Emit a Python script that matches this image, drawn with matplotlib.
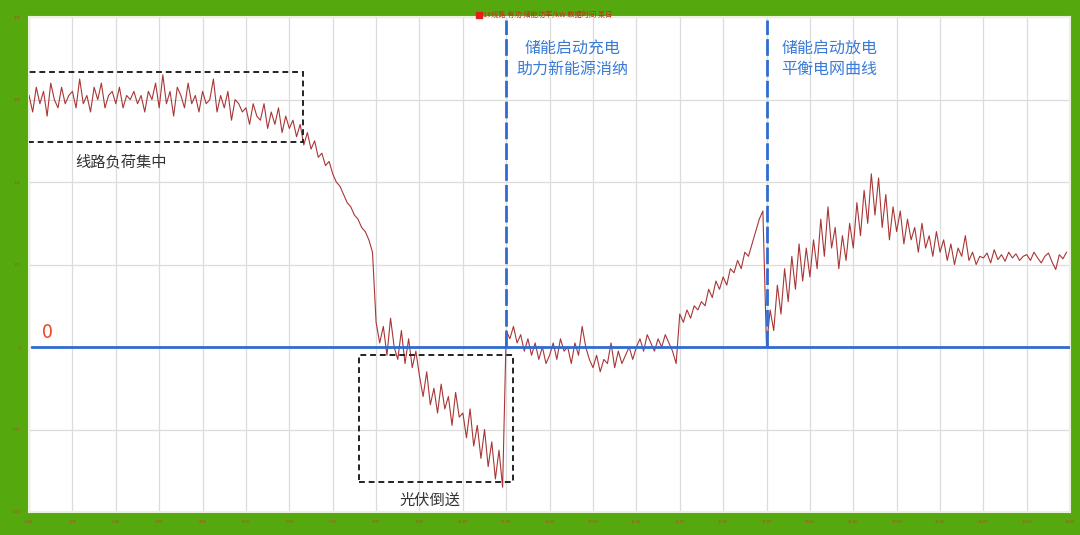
import numpy as np
import matplotlib
import matplotlib.pyplot as plt
from matplotlib.patches import Rectangle

matplotlib.use("Agg")
plt.rcParams["font.family"] = ["Noto Sans CJK SC", "DejaVu Sans"]

# 5-minute samples of line power (hour by hour)
power = [
    3.05, 2.85, 3.15, 2.95, 3.10, 2.80, 3.20, 3.00, 2.90, 3.15, 2.95, 3.05,
    3.10, 2.90, 3.25, 2.95, 3.05, 2.85, 3.15, 3.00, 3.20, 2.90, 3.05, 3.10,
    2.95, 3.15, 2.90, 3.05, 3.00, 3.10, 2.95, 3.05, 2.85, 3.10, 3.00, 3.20,
    2.90, 3.30, 2.95, 3.10, 2.80, 3.15, 3.05, 2.90, 3.20, 2.95, 3.05, 2.85,
    3.10, 2.95, 3.00, 3.25, 2.85, 3.05, 2.90, 3.10, 2.75, 3.00, 2.95, 2.85,
    2.90, 2.70, 2.95, 2.80, 2.75, 2.95, 2.65, 2.85, 2.70, 2.90, 2.60, 2.80,
    2.65, 2.75, 2.55, 2.70, 2.45, 2.60, 2.40, 2.50, 2.30, 2.35, 2.20, 2.25,
    2.10, 2.00, 1.95, 1.85, 1.75, 1.70, 1.60, 1.55, 1.45, 1.40, 1.30, 1.15,
    0.30, 0.05, 0.25, -0.10, 0.35, 0.00, -0.15, 0.20, -0.20, 0.10, -0.25, -0.05,
    -0.35, -0.60, -0.30, -0.70, -0.50, -0.80, -0.45, -0.75, -0.60, -0.95, -0.55, -0.85,
    -0.80, -1.10, -0.75, -1.20, -0.95, -1.35, -1.00, -1.45, -1.15, -1.60, -1.25, -1.70,
    0.20, 0.10, 0.25, 0.05, 0.15, -0.05, 0.10, -0.10, 0.05, -0.15, 0.00, -0.20,
    -0.10, 0.05, -0.15, 0.10, -0.05, 0.00, -0.20, 0.05, -0.10, 0.25, 0.00, -0.15,
    -0.25, -0.10, -0.30, -0.15, -0.20, 0.05, -0.25, -0.05, -0.20, -0.10, 0.00, -0.15,
    0.00, 0.10, -0.05, 0.15, 0.05, -0.05, 0.10, 0.00, 0.15, 0.05, -0.05, -0.20,
    0.40, 0.30, 0.45, 0.35, 0.50, 0.45, 0.55, 0.50, 0.70, 0.60, 0.80, 0.70,
    0.85, 0.75, 0.95, 0.90, 1.05, 0.95, 1.15, 1.10, 1.25, 1.40, 1.55, 1.65,
    0.00, 0.45, 0.20, 0.75, 0.40, 0.95, 0.55, 1.10, 0.70, 1.25, 0.80, 1.20,
    0.85, 1.30, 0.95, 1.55, 1.10, 1.70, 1.20, 1.45, 0.95, 1.35, 1.05, 1.50,
    1.20, 1.75, 1.35, 1.90, 1.50, 2.10, 1.60, 2.05, 1.45, 1.85, 1.30, 1.70,
    1.40, 1.65, 1.25, 1.55, 1.30, 1.45, 1.15, 1.50, 1.20, 1.35, 1.10, 1.40,
    1.15, 1.30, 1.05, 1.25, 1.00, 1.20, 1.10, 1.35, 1.05, 1.15, 1.00, 1.10,
    1.08, 1.14, 1.02, 1.18, 1.06, 1.12, 1.04, 1.15, 1.08, 1.13, 1.05, 1.10,
    1.12, 1.05, 1.15, 1.08, 1.02, 1.10, 1.14, 1.03, 0.94, 1.12, 1.07, 1.15,
]
x_ticklabels = ["%d:00" % h for h in range(25)]
y_ticklabels = ["-200", "-100", "0", "100", "200", "300", "400"]
storage_times = [11, 17]
storage_notes = ["储能启动充电\n助力新能源消纳", "储能启动放电\n平衡电网曲线"]
box_notes = ["线路负荷集中", "光伏倒送"]
title_text = "1#线路 有功 储能功率/kW 数据时间 某日"

GREEN = "#55a80d"
LINE_RED = "#a93636"
BLUE = "#2f6bd3"
NOTE_BLUE = "#3a7bd6"


def main():
    hours = np.arange(len(power)) / 12.0

    fig = plt.figure(figsize=(10.8, 5.35), dpi=100, facecolor=GREEN)
    ax = fig.add_axes([0.0269, 0.043, 0.964, 0.925])
    ax.set_facecolor("white")

    ax.plot(hours, power, color=LINE_RED, linewidth=0.8, zorder=3)

    # zero line and storage switching lines
    ax.axhline(0, xmin=0.003, xmax=1.0, color=BLUE, linewidth=2, zorder=4)
    for t in storage_times:
        ax.plot([t, t], [0, 3.97], color=BLUE, linewidth=2,
                linestyle=(0, (6, 1.5)), zorder=4)

    ax.text(0.3, 0.05, "0", color="#e84a2b", fontsize=14, va="bottom", ha="left")

    ax.text(12.52, 3.72, storage_notes[0], color=NOTE_BLUE, fontsize=11.5,
            ha="center", va="top", linespacing=1.3)
    ax.text(17.35, 3.72, storage_notes[1], color=NOTE_BLUE, fontsize=11.5,
            ha="left", va="top", linespacing=1.3)

    # dashed boxes
    ax.add_patch(Rectangle((-0.02, 2.48), 6.34, 0.85, fill=False,
                           edgecolor="#222222", linestyle=(0, (3, 2)),
                           linewidth=1.4, zorder=5))
    ax.add_patch(Rectangle((7.61, -1.64), 3.55, 1.54, fill=False,
                           edgecolor="#222222", linestyle=(0, (3, 2)),
                           linewidth=1.4, zorder=5))
    ax.text(2.12, 2.25, box_notes[0], color="#333333", fontsize=11,
            ha="center", va="center")
    ax.text(9.25, -1.86, box_notes[1], color="#333333", fontsize=11,
            ha="center", va="center")

    ax.set_xlim(0, 24)
    ax.set_ylim(-2, 4)
    ax.set_xticks(range(25))
    ax.set_xticklabels(x_ticklabels)
    ax.set_yticks(range(-2, 5))
    ax.set_yticklabels(y_ticklabels)
    ax.tick_params(length=0, labelsize=3, colors="#b0502a", pad=6)
    ax.grid(True, color="#dcdcdc", linewidth=0.9)
    ax.set_axisbelow(True)
    for side in ["top", "right", "bottom", "left"]:
        ax.spines[side].set_color("#e8f2dc")
        ax.spines[side].set_linewidth(1.5)

    fig.patches.append(Rectangle((0.4405, 0.966), 0.0055, 0.012,
                                 transform=fig.transFigure,
                                 color="#e0201a", zorder=5))
    fig.text(0.447, 0.972, title_text, color="#c0301e", fontsize=5.2,
             ha="left", va="center")

    fig.savefig("out.png", dpi=100, facecolor=GREEN)


if __name__ == "__main__":
    main()
